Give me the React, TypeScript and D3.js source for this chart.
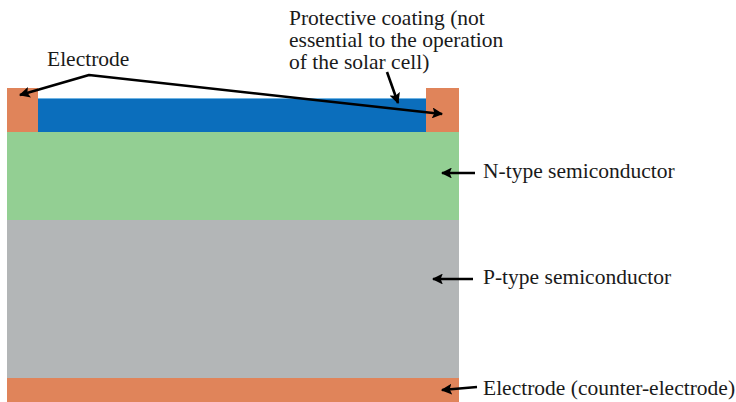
import React from "react";
import * as d3 from "d3";

// Layer stack (units from the bottom of the cell, left to right in cell width units)
const layerNames = ["Bottom electrode", "P-type", "N-type", "Coating", "Left electrode", "Right electrode"];
const layerX0 = [0, 0, 0, 31, 0, 419];
const layerX1 = [452, 452, 452, 419, 31, 452];
const layerY0 = [0, 24, 182, 270, 270, 270];
const layerY1 = [24, 182, 270, 304, 314, 314];
const layerColors = ["#E0845A", "#B3B6B7", "#93CF93", "#0B6EBC", "#E0845A", "#E0845A"];

// Side labels
const sideLabels = ["N-type semiconductor", "P-type semiconductor", "Electrode (counter-electrode)"];
const sideLabelY = [229, 123, 12];
const sideArrowFromX = [468, 466, 470];
const sideArrowToX = [435, 426, 435];
const sideArrowFromY = [229, 123, 15];
const sideArrowToY = [229, 123, 12];

const coatingLines = ["Protective coating (not", "essential to the operation", "of the solar cell)"];

const W = 736;
const H = 402;

export default function App() {
  const x = d3.scaleLinear().domain([0, 452]).range([7, 459]);
  const y = d3.scaleLinear().domain([0, 314]).range([402, 88]);
  const line = d3.line<[number, number]>().x((d) => x(d[0])).y((d) => y(d[1]));

  const font = "Liberation Serif";
  const fs = 21.5;

  // electrode label pointer: left tip, peak, right tip
  const electrodePts: [number, number][] = [
    [13, 307],
    [82, 327],
    [435, 288],
  ];
  const coatingPts: [number, number][] = [
    [380, 330],
    [391, 299],
  ];

  return (
    <svg width={W} height={H} style={{ position: "absolute", left: 0, top: 0 }}>
      <defs>
        <marker id="ah" viewBox="0 0 10 10" refX="9" refY="5" markerWidth="4.2" markerHeight="4.2" orient="auto-start-reverse" markerUnits="strokeWidth">
          <path d="M0,0 L10,5 L0,10 L2,5 Z" fill="#000" />
        </marker>
      </defs>
      <rect x={0} y={0} width={W} height={H} fill="#fff" />
      {layerNames.map((n, i) => (
        <rect
          key={n}
          x={x(layerX0[i])}
          y={y(layerY1[i])}
          width={x(layerX1[i]) - x(layerX0[i])}
          height={y(layerY0[i]) - y(layerY1[i])}
          fill={layerColors[i]}
        />
      ))}
      {/* light top edge of coating */}
      <line x1={x(31)} x2={x(419)} y1={y(304) + 0.5} y2={y(304) + 0.5} stroke="#6FB4E4" strokeWidth={1} />

      {/* Electrode pointer */}
      <path d={line(electrodePts) ?? ""} fill="none" stroke="#000" strokeWidth={2.6} strokeLinejoin="round" markerStart="url(#ah)" markerEnd="url(#ah)" />
      <path d={line(coatingPts) ?? ""} fill="none" stroke="#000" strokeWidth={2.6} markerEnd="url(#ah)" />

      {sideLabels.map((t, i) => (
        <g key={t}>
          <path
            d={line([[sideArrowFromX[i], sideArrowFromY[i]], [sideArrowToX[i], sideArrowToY[i]]]) ?? ""}
            stroke="#000"
            strokeWidth={2.6}
            fill="none"
            markerEnd="url(#ah)"
          />
          <text x={483} y={y(sideLabelY[i]) + 5} fontFamily={font} fontSize={fs} fill="#1a1a1a">
            {t}
          </text>
        </g>
      ))}

      <text x={47} y={66} fontFamily={font} fontSize={fs} fill="#1a1a1a">Electrode</text>
      {coatingLines.map((t, i) => (
        <text key={t} x={289} y={25 + i * 22} fontFamily={font} fontSize={fs} fill="#1a1a1a">
          {t}
        </text>
      ))}
    </svg>
  );
}
